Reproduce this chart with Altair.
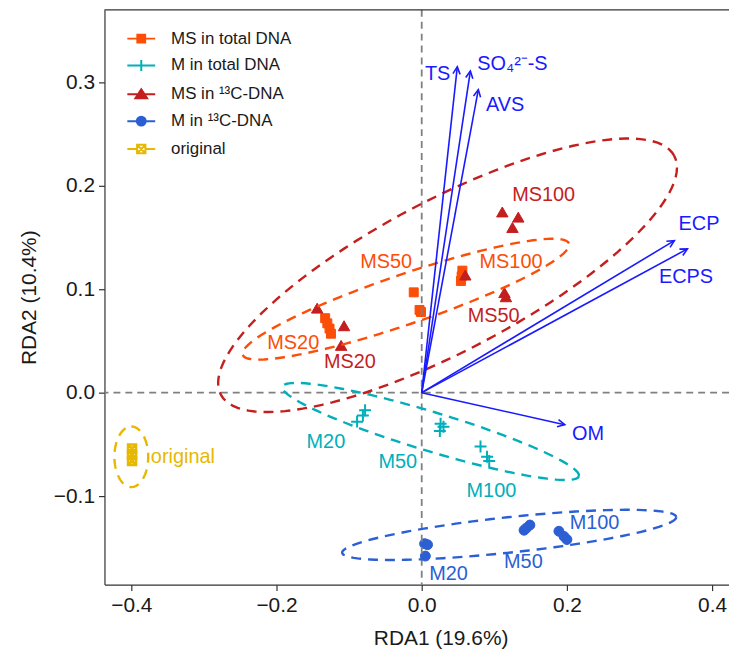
import altair as alt
import numpy as np
import pandas as pd

FONT = "Liberation Sans, Arial, sans-serif"

# ---------------- data ----------------
groups = ["MS in total DNA", "M in total DNA", "MS in ¹³C-DNA", "M in ¹³C-DNA", "original"]
colors = ["#FC4E07", "#00AFBB", "#C41E1E", "#2B5FD3", "#E7B800"]

ms_total_x = [-0.133, -0.130, -0.127, -0.125, -0.011, -0.003, -0.001, 0.056, 0.055, 0.054]
ms_total_y = [0.072, 0.067, 0.062, 0.057, 0.097, 0.080, 0.078, 0.118, 0.1125, 0.108]

m_total_x = [-0.078, -0.081, -0.089, 0.026, 0.030, 0.025, 0.081, 0.090, 0.093]
m_total_y = [-0.017, -0.022, -0.028, -0.030, -0.033, -0.037, -0.052, -0.062, -0.066]

ms_13c_x = [-0.144, -0.107, -0.111, 0.114, 0.116, 0.060, 0.111, 0.133, 0.125]
ms_13c_y = [0.081, 0.064, 0.045, 0.096, 0.092, 0.113, 0.174, 0.169, 0.159]

m_13c_x = [0.004, 0.008, 0.005, 0.141, 0.149, 0.144, 0.189, 0.196, 0.200]
m_13c_y = [-0.146, -0.147, -0.158, -0.133, -0.128, -0.131, -0.134, -0.139, -0.142]

orig_x = [-0.399, -0.399, -0.399]
orig_y = [-0.054, -0.060, -0.066]

# ellipses: centre and two conjugate semi-axis vectors (data units)
ell_cx = [-0.0219, 0.0123, 0.0356, 0.1205, -0.400]
ell_cy = [0.0904, -0.0375, 0.1135, -0.1375, -0.062]
ell_ax = [0.2247, 0.2041, 0.3123, 0.2301, 0.0]
ell_ay = [0.0538, -0.0433, 0.1154, 0.0173, 0.0293]
ell_bx = [-0.0111, 0.0078, -0.0484, 0.0026, 0.0233]
ell_by = [0.0228, 0.0181, 0.0646, -0.0170, 0.0]

# group labels
lab_group = [0, 0, 0, 2, 2, 2, 1, 1, 1, 3, 3, 3, 4]
lab_text = ["MS50", "MS100", "MS20", "MS100", "MS50", "MS20",
            "M20", "M50", "M100", "M20", "M50", "M100", "original"]
lab_x = [-0.049, 0.123, -0.177, 0.168, 0.099, -0.099,
         -0.132, -0.033, 0.096, 0.037, 0.140, 0.238, -0.329]
lab_y = [0.126, 0.126, 0.048, 0.191, 0.074, 0.030,
         -0.048, -0.067, -0.095, -0.175, -0.164, -0.126, -0.0625]

# environmental arrows
env_names = ["TS", "SO₄²⁻-S", "AVS", "ECP", "ECPS", "OM"]
env_x = [0.049, 0.067, 0.078, 0.348, 0.366, 0.197]
env_y = [0.315, 0.311, 0.293, 0.147, 0.139, -0.031]
env_lx = [0.022, 0.125, 0.115, 0.382, 0.364, 0.229]
env_ly = [0.308, 0.318, 0.278, 0.163, 0.112, -0.040]

# ---------------- layout ----------------
W, H = 628, 578
XMIN = -0.437
XMAX = XMIN + W / 730.0
YMAX = 0.3702
YMIN = YMAX - H / 1040.0
kx = W / (XMAX - XMIN)
ky = H / (YMAX - YMIN)

ARROW = "#1A1AFF"
INK = "#1a1a1a"

xscale = alt.Scale(domain=[XMIN, XMAX], nice=False, zero=False)
yscale = alt.Scale(domain=[YMIN, YMAX], nice=False, zero=False)
xaxis = alt.Axis(values=[-0.4, -0.2, 0.0, 0.2, 0.4], format=".1f", title="RDA1 (19.6%)",
                 titlePadding=12, titleX=338)
yaxis = alt.Axis(values=[-0.1, 0.0, 0.1, 0.2, 0.3], format=".1f", title="RDA2 (10.4%)",
                 titlePadding=14)


def X(f):
    return alt.X(f, type="quantitative", scale=xscale, axis=xaxis)


def Y(f):
    return alt.Y(f, type="quantitative", scale=yscale, axis=yaxis)


# ---------------- tables ----------------
pts_x = [ms_total_x, m_total_x, ms_13c_x, m_13c_x, orig_x]
pts_y = [ms_total_y, m_total_y, ms_13c_y, m_13c_y, orig_y]
rows = []
for g, xs, ys in zip(groups, pts_x, pts_y):
    for a, b in zip(xs, ys):
        rows.append({"group": g, "x": a, "y": b})
pts = pd.DataFrame(rows)

t = np.linspace(0, 2 * np.pi, 121)
erows = []
for i, g in enumerate(groups):
    ex = ell_cx[i] + ell_ax[i] * np.cos(t) + ell_bx[i] * np.sin(t)
    ey = ell_cy[i] + ell_ay[i] * np.cos(t) + ell_by[i] * np.sin(t)
    for k in range(len(t)):
        erows.append({"group": g, "i": k, "x": float(ex[k]), "y": float(ey[k])})
ell = pd.DataFrame(erows)

labels = pd.DataFrame({"group": [groups[i] for i in lab_group], "text": lab_text,
                       "x": lab_x, "y": lab_y})

env = pd.DataFrame({"name": env_names, "x": env_x, "y": env_y, "lx": env_lx, "ly": env_ly})
env["x0"] = 0.0
env["y0"] = 0.0
env["angle"] = (np.degrees(np.arctan2(env["x"] * kx, env["y"] * ky)) + 360) % 360

color_scale = alt.Scale(domain=groups, range=colors)

# ---------------- layers ----------------
base_pts = alt.Chart(pts)

SQ = "M-0.9,-0.9H0.9V0.9H-0.9Z"
PLUS = "M-1.2,0H1.2M0,-1.2V1.2"
TRI = "M0,-1.15L1.15,0.85H-1.15Z"
CIR = "M1,0A1,1,0,1,1,-1,0A1,1,0,1,1,1,0Z"
BOXX = "M-0.8,-0.8H0.8V0.8H-0.8ZM-0.8,-0.8L0.8,0.8M0.8,-0.8L-0.8,0.8"
shapes = [SQ, PLUS, TRI, CIR, BOXX]
filled = [True, False, True, True, False]
swidth = [1, 2, 1, 1, 2.6]

point_layers = []
for g, c, s, f, sw in zip(groups, colors, shapes, filled, swidth):
    if f:
        mk = base_pts.mark_point(shape=s, size=100, filled=True, fill=c, stroke=c,
                                 strokeWidth=sw, opacity=1)
    else:
        mk = base_pts.mark_point(shape=s, size=100, filled=False, stroke=c,
                                 strokeWidth=sw, opacity=1)
    point_layers.append(
        mk.encode(x=X("x"), y=Y("y")).transform_filter(alt.datum.group == g)
    )

# legend layer (invisible points, visible legend)
LEG = [
    "M-1,0H1M-0.28,-0.28H0.28V0.28H-0.28Z",
    "M-1,0H1M0,-0.4V0.4",
    "M-1,0H1M0,-0.36L0.42,0.28H-0.42Z",
    "M-1,0H1M0.32,0A0.32,0.32,0,1,1,-0.32,0A0.32,0.32,0,1,1,0.32,0Z",
    "M-1,0H-0.3M0.3,0H1M-0.3,-0.3H0.3V0.3H-0.3ZM-0.3,-0.3L0.3,0.3M0.3,-0.3L-0.3,0.3",
]
leg_fill = [colors[0], "transparent", colors[2], colors[3], "transparent"]
legend = alt.Legend(title=None, orient="none", legendX=22, legendY=14, padding=0,
                    rowPadding=4, symbolSize=784, symbolStrokeWidth=2, symbolOpacity=1,
                    labelFontSize=17, labelFont=FONT, labelColor=INK, labelOffset=15,
                    labelLimit=400)
legend_layer = base_pts.mark_point(size=784, opacity=0, filled=True).encode(
    x=X("x"), y=Y("y"),
    fill=alt.Fill("group:N", scale=alt.Scale(domain=groups, range=leg_fill), legend=legend),
    stroke=alt.Stroke("group:N", scale=alt.Scale(domain=groups, range=colors), legend=legend),
    shape=alt.Shape("group:N", scale=alt.Scale(domain=groups, range=LEG), legend=legend),
)

ellipses = alt.Chart(ell).mark_line(strokeDash=[10, 7], strokeWidth=2.4).encode(
    x=X("x"), y=Y("y"),
    color=alt.Color("group:N", scale=color_scale, legend=None),
    detail="group:N", order="i:Q",
)

zero_df = pd.DataFrame({"z": [0.0]})
hline = alt.Chart(zero_df).mark_rule(color="#808080", strokeWidth=1.8, strokeDash=[7, 5]).encode(
    y=Y("z"))
vline = alt.Chart(zero_df).mark_rule(color="#808080", strokeWidth=1.8, strokeDash=[7, 5]).encode(
    x=X("z"))

arrows = alt.Chart(env).mark_rule(color=ARROW, strokeWidth=1.6).encode(
    x=X("x0"), y=Y("y0"), x2="x", y2="y")
heads = alt.Chart(env).mark_point(shape="M-0.45,0.9L0,0L0.45,0.9", size=256, filled=False,
                                  stroke=ARROW, strokeWidth=1.6, opacity=1).encode(
    x=X("x"), y=Y("y"), angle=alt.Angle("angle:Q", scale=None))
env_text = alt.Chart(env).mark_text(color=ARROW, fontSize=20, font=FONT).encode(
    x=X("lx"), y=Y("ly"), text="name:N")

grp_text = alt.Chart(labels).mark_text(fontSize=20, font=FONT).encode(
    x=X("x"), y=Y("y"), text="text:N",
    color=alt.Color("group:N", scale=color_scale, legend=None))

top_border = alt.Chart(zero_df).mark_rule(color="#333333", strokeWidth=1.2).encode(
    x=alt.value(0), x2=alt.value(W), y=alt.value(0))

chart = alt.layer(
    *point_layers, legend_layer, hline, vline, ellipses, arrows, heads, env_text, grp_text,
    top_border,
).properties(
    width=W, height=H,
    autosize=alt.AutoSizeParams(type="none"),
    padding={"left": 97, "top": 0, "right": 0, "bottom": 70},
).configure_view(stroke=None).configure_axis(
    grid=False, domainColor="#333333", domainWidth=1.2, tickColor="#333333", tickWidth=1.2,
    tickSize=6, labelFont=FONT, labelFontSize=21, labelColor=INK, labelPadding=4,
    titleFont=FONT, titleFontSize=21, titleFontWeight="normal", titleColor=INK,
)

chart.save("out.html", embed_options={"renderer": "svg", "actions": False})
